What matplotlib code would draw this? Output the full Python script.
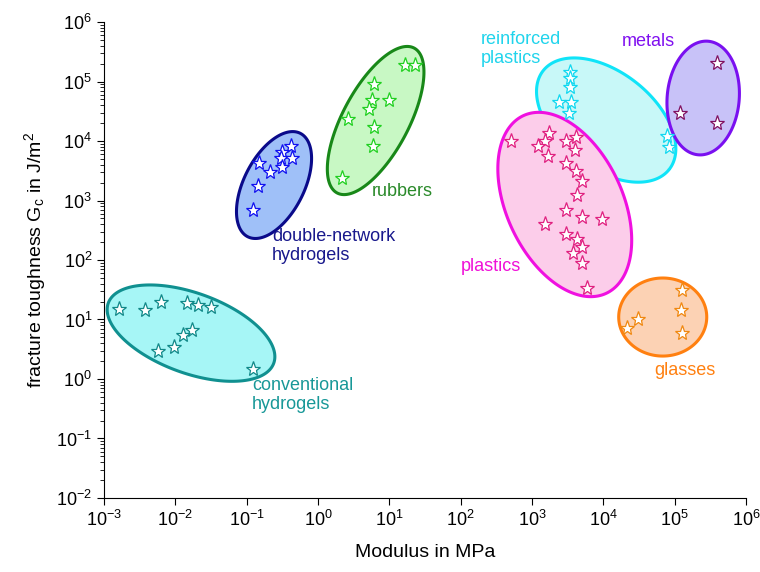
import numpy as np
import matplotlib.pyplot as plt

plt.rcParams['font.family'] = ['Liberation Sans', 'DejaVu Sans']
plt.rcParams['mathtext.fontset'] = 'custom'
plt.rcParams['mathtext.rm'] = 'Liberation Sans'
plt.rcParams['mathtext.it'] = 'Liberation Sans:italic'

# modulus (MPa) and fracture toughness (J/m^2) per material class
conv_E = [1.6e-3, 3.8e-3, 6.3e-3, 0.0145, 0.021, 0.032, 0.017, 0.0127, 0.0096, 0.0058, 0.124]
conv_G = [14.8, 14.5, 20, 19, 17.4, 16.4, 6.6, 5.5, 3.4, 2.9, 1.5]

dn_E = [0.42, 0.31, 0.30, 0.43, 0.149, 0.31, 0.21, 0.146, 0.124]
dn_G = [8300, 6600, 5100, 5100, 4200, 3700, 3050, 1780, 690]

rub_E = [16.6, 23, 6.1, 5.7, 10, 5.2, 2.6, 6.1, 5.9, 2.2]
rub_G = [1.9e5, 1.9e5, 9.1e4, 4.9e4, 4.9e4, 3.5e4, 2.35e4, 1.7e4, 8300, 2400]

pl_E = [510, 1740, 1530, 1220, 1690, 3020, 4170, 4040, 3020, 4170, 5060,
        4300, 3020, 5060, 9660, 1530, 3020, 4300, 5060, 3780, 5060, 5940]
pl_G = [10000, 13600, 10000, 8200, 5600, 10000, 11700, 7100, 4300, 3100, 2100,
        1230, 690, 530, 490, 400, 275, 225, 165, 132, 89, 34]

rp_E = [3440, 3440, 3440, 2400, 3560, 3300, 78700, 84000]
rp_G = [1.45e5, 1.15e5, 8.1e4, 4.5e4, 4.5e4, 2.95e4, 1.2e4, 7900]

met_E = [3.95e5, 1.2e5, 3.95e5]
met_G = [2.05e5, 2.95e4, 2.0e4]

gl_E = [1.28e5, 1.24e5, 3.1e4, 2.16e4, 1.28e5]
gl_G = [31, 14.5, 10, 7.2, 5.9]

# ellipse: centre (E, G), semi-axes in x-decade units, angle in degrees
ell_conv = (0.0166, 5.9, 1.234, 0.561, -20)
ell_dn = (0.242, 1820, 0.813, 0.421, 63)
ell_rub = (6.43, 22100, 1.150, 0.463, 62)
ell_pl = (2880, 857, 1.374, 0.813, -65)
ell_rp = (10960, 22500, 1.122, 0.673, -38)
ell_met = (2.51e5, 52800, 0.799, 0.505, 85)
ell_gl = (68000, 11.0, 0.617, 0.547, 0)

fig = plt.figure(figsize=(7.6, 5.72), dpi=100)
ax = fig.add_axes([0.1368, 0.1294, 0.8448, 0.8321])
ax.set_xscale('log')
ax.set_yscale('log')
ax.set_xlim(1e-3, 1e6)
ax.set_ylim(1e-2, 1e6)

# ratio of pixels per decade in x to pixels per decade in y
bb = ax.get_window_extent()
ratio = (bb.width / 9) / (bb.height / 8)


def draw_ellipse(e, fc, ec):
    cx, cy, a, b, ang = e
    t = np.linspace(0, 2 * np.pi, 300)
    th = np.radians(ang)
    u = a * np.cos(t)
    v = b * np.sin(t)
    dx = u * np.cos(th) - v * np.sin(th)
    dy = (u * np.sin(th) + v * np.cos(th)) * ratio
    ax.fill(10 ** (np.log10(cx) + dx), 10 ** (np.log10(cy) + dy),
            facecolor=fc, edgecolor=ec, linewidth=2.2, zorder=2)


draw_ellipse(ell_conv, '#a6f6f6', '#109090')
draw_ellipse(ell_dn, '#9fc0f8', '#0a0a8a')
draw_ellipse(ell_rub, '#c8f8c4', '#188818')
draw_ellipse(ell_rp, '#c8f8f8', '#10e4f8')
draw_ellipse(ell_met, '#c8c2f8', '#7a10f0')
draw_ellipse(ell_pl, '#fccdea', '#f010e0')
draw_ellipse(ell_gl, '#fcd2b4', '#ff8010')

groups = [(conv_E, conv_G, '#108888'), (dn_E, dn_G, '#1010f0'),
          (rub_E, rub_G, '#20d020'), (rp_E, rp_G, '#10d8f0'),
          (met_E, met_G, '#801060'), (pl_E, pl_G, '#e02080'),
          (gl_E, gl_G, '#f08810')]
for xs, ys, c in groups:
    ax.plot(xs, ys, linestyle='none', marker='*', markersize=11,
            markerfacecolor='white', markeredgecolor=c, markeredgewidth=0.9,
            zorder=3)

fs = 13
ax.text(0.119, 1.08, 'conventional\nhydrogels', color='#189898', fontsize=fs,
        va='top', ha='left', linespacing=1.15)
ax.text(0.227, 347, 'double-network\nhydrogels', color='#18188c', fontsize=fs,
        va='top', ha='left', linespacing=1.15)
ax.text(5.74, 1970, 'rubbers', color='#2a8a2a', fontsize=fs, va='top', ha='left')
ax.text(101.6, 107, 'plastics', color='#f010d8', fontsize=fs, va='top', ha='left')
ax.text(194, 7.1e5, 'reinforced\nplastics', color='#20d4ec', fontsize=fs,
        va='top', ha='left', linespacing=1.15)
ax.text(18400, 6.5e5, 'metals', color='#8010f0', fontsize=fs, va='top', ha='left')
ax.text(51800, 1.93, 'glasses', color='#ff8010', fontsize=fs, va='top', ha='left')

ax.spines['top'].set_visible(False)
ax.spines['right'].set_visible(False)
ax.xaxis.set_minor_locator(plt.NullLocator())
ax.set_xticks([10.0 ** k for k in range(-3, 7)])
ax.set_yticks([10.0 ** k for k in range(-2, 7)])
ax.tick_params(axis='both', which='major', labelsize=13, length=5, direction='out')
ax.tick_params(axis='y', which='minor', length=3, direction='out')

ax.set_xlabel('Modulus in MPa', fontsize=14, labelpad=10)
ax.set_ylabel(r'fracture toughness G$_\mathregular{c}$ in J/m$^\mathregular{2}$',
              fontsize=14, labelpad=6)

fig.savefig('out.png', dpi=100)
